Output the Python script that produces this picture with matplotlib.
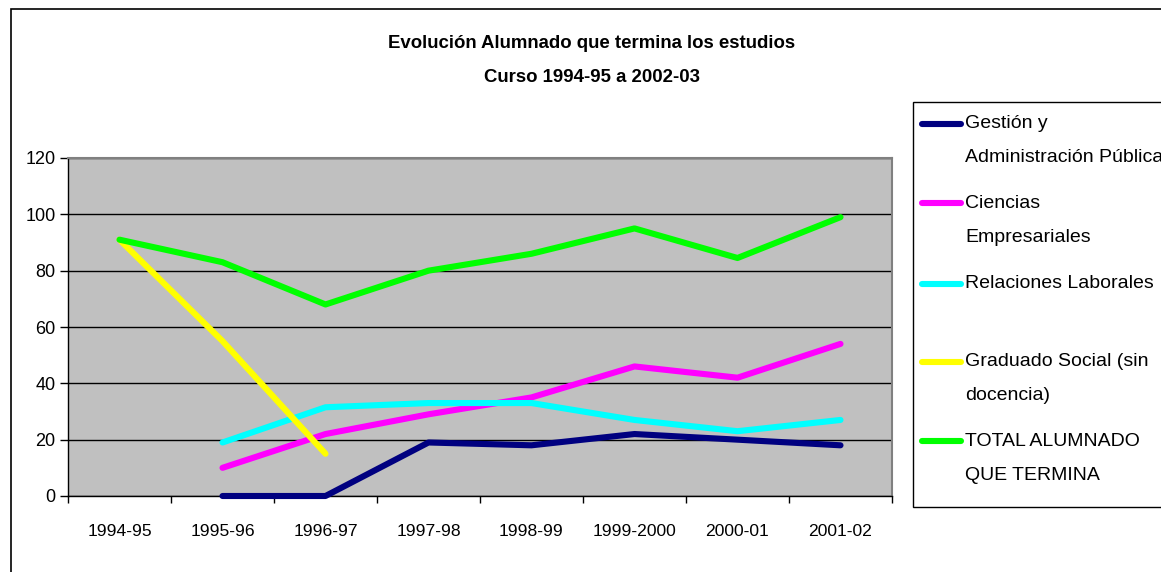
import matplotlib.pyplot as plt
from matplotlib.lines import Line2D
from matplotlib.patches import Rectangle

cursos = ['1994-95', '1995-96', '1996-97', '1997-98', '1998-99',
          '1999-2000', '2000-01', '2001-02']

gestion = [None, 0, 0, 19, 18, 22, 20, 18]
ciencias = [None, 10, 22, 29, 35, 46, 42, 54]
relaciones = [None, 19, 31.5, 33, 33, 27, 23, 27]
graduado = [91, 55, 15, None, None, None, None, None]
total = [91, 83, 68, 80, 86, 95, 84.5, 99]

series = [
    ('Gestión y\nAdministración Pública', gestion, '#000080'),
    ('Ciencias\nEmpresariales', ciencias, '#FF00FF'),
    ('Relaciones Laborales', relaciones, '#00FFFF'),
    ('Graduado Social (sin\ndocencia)', graduado, '#FFFF00'),
    ('TOTAL ALUMNADO\nQUE TERMINA', total, '#00FF00'),
]

plt.rcParams['font.family'] = ['Liberation Sans', 'DejaVu Sans']

W, H = 1161, 572
fig = plt.figure(figsize=(W / 100, H / 100), dpi=100)


def fx(px):
    return px / W


def fy(py):
    return 1 - py / H


# outer chart border
fig.add_artist(Rectangle((fx(11), fy(600)), fx(1200), fy(9) - fy(600),
                         transform=fig.transFigure, fill=False,
                         edgecolor='black', linewidth=1.2))

ax = fig.add_axes([fx(68), fy(496), fx(892) - fx(68), fy(158) - fy(496)])
ax.set_facecolor('#C0C0C0')

x = list(range(len(cursos)))
for label, vals, color in series:
    xs = [i for i, v in zip(x, vals) if v is not None]
    ys = [v for v in vals if v is not None]
    ax.plot(xs, ys, color=color, linewidth=4.4, solid_capstyle='round',
            solid_joinstyle='round', zorder=3, clip_on=False)

ax.set_xlim(-0.5, len(cursos) - 0.5)
ax.set_ylim(0, 120)
ax.set_yticks(range(0, 121, 20))
ax.yaxis.grid(True, color='black', linewidth=1)
ax.set_axisbelow(True)
ax.set_xticks(x)
ax.set_xticklabels(cursos)
ax.set_xticks([i - 0.5 for i in range(len(cursos) + 1)], minor=True)
ax.tick_params(axis='x', which='major', length=0, pad=20, labelsize=12.6)
ax.tick_params(axis='x', which='minor', length=5, direction='out', width=1)
ax.tick_params(axis='y', length=6, direction='out', width=1, pad=3, labelsize=13)

for side in ['top', 'right']:
    ax.spines[side].set_color('#808080')
    ax.spines[side].set_linewidth(1.5)
for side in ['left', 'bottom']:
    ax.spines[side].set_color('black')
    ax.spines[side].set_linewidth(1)

fig.text(fx(592), fy(44), 'Evolución Alumnado que termina los estudios',
         ha='center', va='center', fontsize=13.4, fontweight='bold')
fig.text(fx(592), fy(78), 'Curso 1994-95 a 2002-03',
         ha='center', va='center', fontsize=13.4, fontweight='bold')

# legend box
fig.add_artist(Rectangle((fx(913), fy(507)), fx(300), fy(102) - fy(507),
                         transform=fig.transFigure, fill=True,
                         facecolor='white', edgecolor='black', linewidth=1))
legend_y = [124, 203, 284, 362, 441]
for (label, vals, color), ly in zip(series, legend_y):
    fig.add_artist(Line2D([fx(922), fx(961)], [fy(ly), fy(ly)],
                          transform=fig.transFigure, color=color,
                          linewidth=4.4, solid_capstyle='round'))
    for k, line in enumerate(label.split('\n')):
        fig.text(fx(965), fy(ly + 34 * k), line, ha='left', va='center',
                 fontsize=14)

fig.savefig('out.png', dpi=100)
